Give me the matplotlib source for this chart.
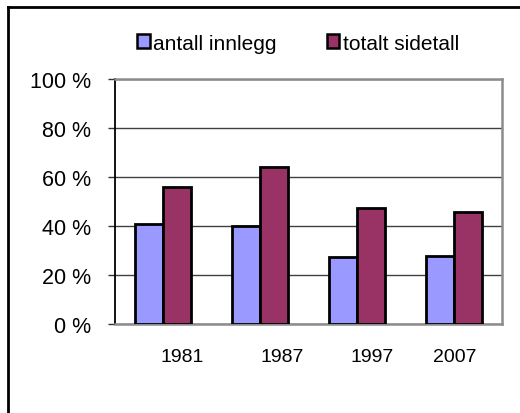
import matplotlib.pyplot as plt
from matplotlib.patches import Patch
from matplotlib.lines import Line2D
import numpy as np

plt.rcParams['font.family'] = ['Liberation Sans', 'DejaVu Sans']

# --- data ---
years = ['1981', '1987', '1997', '2007']
antall_innlegg = [41.0, 40.2, 27.2, 27.6]
totalt_sidetall = [56.0, 64.0, 47.5, 45.8]
y_ticks = [0, 20, 40, 60, 80, 100]

# year labels sit a bit right of their bar groups in the original
label_shift = [0.19, 0.23, 0.16, 0.01]

blue = '#9999FF'
plum = '#993366'

fig = plt.figure(figsize=(5.2, 4.14), dpi=100)
ax = fig.add_axes([115 / 520, 89 / 414, 387 / 520, 245 / 414])

x = np.arange(len(years))
w = 0.29
ax.bar(x - w / 2, antall_innlegg, w, color=blue, edgecolor='black', linewidth=2, zorder=3)
ax.bar(x + w / 2, totalt_sidetall, w, color=plum, edgecolor='black', linewidth=2, zorder=3)

ax.set_xlim(-0.5, len(years) - 0.5)
ax.set_ylim(0, 100)
ax.set_yticks(y_ticks)
ax.set_yticklabels([f'{v} %' for v in y_ticks], fontsize=15.5)
ax.set_xticks(x + np.array(label_shift))
ax.set_xticklabels(years, fontsize=14)
ax.tick_params(axis='x', length=0, pad=17)
ax.tick_params(axis='y', length=5, width=1, color='#333333', pad=12)

ax.yaxis.grid(True, color='#404040', linewidth=1)
ax.set_axisbelow(True)
ax.spines['left'].set_color('black')
ax.spines['left'].set_linewidth(1.3)
for s in ['top', 'right', 'bottom']:
    ax.spines[s].set_color('#8c8c8c')
    ax.spines[s].set_linewidth(1.8)

handles = [Patch(facecolor=blue, edgecolor='black', linewidth=1.8, label='antall innlegg'),
           Patch(facecolor=plum, edgecolor='black', linewidth=1.8, label='totalt sidetall')]
fig.legend(handles=handles, loc='center left', bbox_to_anchor=(137 / 520, 1 - 44 / 414),
           ncol=2, frameon=False, fontsize=15, handlelength=0.62, handleheight=0.62,
           handletextpad=0.15, columnspacing=2.4, borderpad=0, borderaxespad=0)

# outer chart frame (only top and left edges are inside the image)
fy = 1 - 8 / 414
fx = 7.5 / 520
fig.add_artist(Line2D([fx, fx], [0, fy], color='black', linewidth=2, transform=fig.transFigure))
fig.add_artist(Line2D([fx, 1], [fy, fy], color='black', linewidth=2, transform=fig.transFigure))

fig.savefig('out.png', dpi=100)
